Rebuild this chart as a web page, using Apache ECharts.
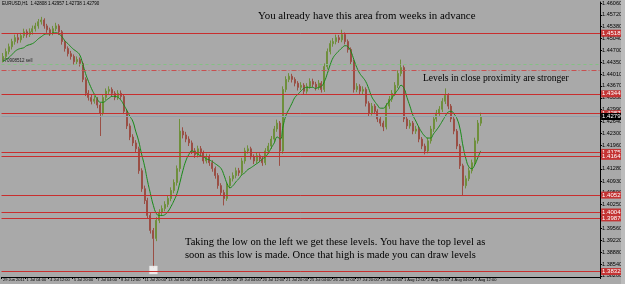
<!DOCTYPE html>
<html><head><meta charset="utf-8">
<script src="https://cdn.jsdelivr.net/npm/echarts@6/dist/echarts.min.js"></script>
<style>html,body{margin:0;padding:0;background:#a9a9a9;}#c{width:625px;height:284px;}</style>
</head><body><div id="c"></div>
<script>
const xLabels = ["29 Jun 2011","1 Jul 04:00","4 Jul 12:00","5 Jul 20:00","7 Jul 04:00","8 Jul 12:00","11 Jul 20:00","13 Jul 04:00","14 Jul 12:00","15 Jul 20:00","19 Jul 04:00","20 Jul 12:00","21 Jul 20:00","25 Jul 04:00","26 Jul 12:00","27 Jul 20:00","29 Jul 04:00","1 Aug 12:00","2 Aug 20:00","4 Aug 04:00","5 Aug 12:00"];
const slotCount = 203;
const yTicks = [1.38200,1.38540,1.38880,1.39220,1.39560,1.39910,1.40250,1.40590,1.40930,1.41280,1.41620,1.41960,1.42300,1.42640,1.42990,1.43330,1.43670,1.44010,1.44350,1.44700,1.45040,1.45380,1.45720,1.46060];
const opens = [
1.4443,1.4452,1.4466,1.4480,1.4495,1.4506,1.4500,1.4512,1.4523,1.4515,
1.4523,1.4532,1.4540,1.4552,1.4557,1.4540,1.4529,1.4520,1.4532,1.4540,
1.4523,1.4495,1.4475,1.4460,1.4452,1.4437,1.4443,1.4432,1.4386,1.4346,
1.4334,1.4323,1.4329,1.4312,1.4289,1.4334,1.4352,1.4357,1.4346,1.4334,
1.4346,1.4337,1.4294,1.4252,1.4220,1.4203,1.4186,1.4123,1.4071,1.4037,
1.3994,1.3951,1.3928,1.3980,1.4003,1.4014,1.4026,1.4043,1.4066,1.4089,
1.4129,1.4237,1.4226,1.4214,1.4203,1.4180,1.4169,1.4186,1.4174,1.4151,
1.4163,1.4146,1.4129,1.4109,1.4080,1.4060,1.4043,1.4080,1.4100,1.4109,
1.4123,1.4117,1.4151,1.4180,1.4186,1.4163,1.4151,1.4166,1.4157,1.4146,
1.4180,1.4194,1.4214,1.4243,1.4260,1.4180,1.4357,1.4386,1.4395,1.4386,
1.4375,1.4363,1.4369,1.4352,1.4366,1.4380,1.4372,1.4363,1.4375,1.4357,
1.4423,1.4466,1.4489,1.4495,1.4506,1.4500,1.4515,1.4495,1.4472,1.4437,
1.4357,1.4366,1.4352,1.4357,1.4317,1.4289,1.4309,1.4294,1.4272,1.4260,
1.4249,1.4309,1.4329,1.4346,1.4369,1.4403,1.4420,1.4272,1.4252,1.4260,
1.4237,1.4243,1.4214,1.4194,1.4180,1.4209,1.4243,1.4272,1.4289,1.4300,
1.4323,1.4340,1.4309,1.4272,1.4237,1.4194,1.4137,1.4080,1.4100,1.4123,
1.4146,1.4209,1.4260];
const closes = [
1.4452,1.4466,1.4480,1.4495,1.4506,1.4500,1.4512,1.4523,1.4515,1.4523,
1.4532,1.4540,1.4552,1.4557,1.4540,1.4529,1.4520,1.4532,1.4540,1.4523,
1.4495,1.4475,1.4460,1.4452,1.4437,1.4443,1.4432,1.4386,1.4346,1.4334,
1.4323,1.4329,1.4312,1.4289,1.4334,1.4352,1.4357,1.4346,1.4334,1.4346,
1.4337,1.4294,1.4252,1.4220,1.4203,1.4186,1.4123,1.4071,1.4037,1.3994,
1.3951,1.3928,1.3980,1.4003,1.4014,1.4026,1.4043,1.4066,1.4089,1.4129,
1.4237,1.4226,1.4214,1.4203,1.4180,1.4169,1.4186,1.4174,1.4151,1.4163,
1.4146,1.4129,1.4109,1.4080,1.4060,1.4043,1.4080,1.4100,1.4109,1.4123,
1.4117,1.4151,1.4180,1.4186,1.4163,1.4151,1.4166,1.4157,1.4146,1.4180,
1.4194,1.4214,1.4243,1.4260,1.4180,1.4357,1.4386,1.4395,1.4386,1.4375,
1.4363,1.4369,1.4352,1.4366,1.4380,1.4372,1.4363,1.4375,1.4357,1.4423,
1.4466,1.4489,1.4495,1.4506,1.4500,1.4515,1.4495,1.4472,1.4437,1.4357,
1.4366,1.4352,1.4357,1.4317,1.4289,1.4309,1.4294,1.4272,1.4260,1.4249,
1.4309,1.4329,1.4346,1.4369,1.4403,1.4420,1.4272,1.4252,1.4260,1.4237,
1.4243,1.4214,1.4194,1.4180,1.4209,1.4243,1.4272,1.4289,1.4300,1.4323,
1.4340,1.4309,1.4272,1.4237,1.4194,1.4137,1.4080,1.4100,1.4123,1.4146,
1.4209,1.4260,1.4279];
const lows = [
1.4435,1.4445,1.4458,1.4472,1.4486,1.4490,1.4492,1.4505,1.4506,1.4508,
1.4515,1.4524,1.4532,1.4544,1.4532,1.4520,1.4511,1.4513,1.4525,1.4514,
1.4486,1.4466,1.4452,1.4443,1.4428,1.4430,1.4423,1.4378,1.4338,1.4325,
1.4314,1.4316,1.4303,1.4223,1.4282,1.4326,1.4344,1.4338,1.4326,1.4327,
1.4328,1.4286,1.4243,1.4211,1.4194,1.4176,1.4114,1.4062,1.4027,1.3985,
1.3942,1.3843,1.3920,1.3972,1.3995,1.4006,1.4018,1.4035,1.4058,1.4080,
1.4120,1.4216,1.4205,1.4194,1.4171,1.4160,1.4161,1.4166,1.4143,1.4144,
1.4137,1.4120,1.4100,1.4071,1.4051,1.4023,1.4036,1.4072,1.4092,1.4101,
1.4108,1.4110,1.4143,1.4172,1.4155,1.4142,1.4144,1.4149,1.4137,1.4139,
1.4172,1.4186,1.4206,1.4235,1.4137,1.4172,1.4349,1.4378,1.4377,1.4366,
1.4354,1.4355,1.4343,1.4345,1.4359,1.4364,1.4354,1.4356,1.4348,1.4350,
1.4415,1.4458,1.4480,1.4487,1.4491,1.4493,1.4487,1.4463,1.4428,1.4348,
1.4349,1.4343,1.4344,1.4308,1.4280,1.4282,1.4286,1.4263,1.4251,1.4237,
1.4242,1.4301,1.4321,1.4338,1.4361,1.4395,1.4263,1.4243,1.4244,1.4228,
1.4229,1.4205,1.4185,1.4170,1.4173,1.4201,1.4235,1.4264,1.4281,1.4292,
1.4315,1.4300,1.4263,1.4228,1.4185,1.4128,1.4051,1.4072,1.4093,1.4115,
1.4138,1.4201,1.4252];
const highs = [
1.4462,1.4475,1.4489,1.4503,1.4515,1.4517,1.4520,1.4532,1.4530,1.4533,
1.4541,1.4549,1.4560,1.4566,1.4562,1.4546,1.4535,1.4540,1.4549,1.4545,
1.4528,1.4500,1.4481,1.4468,1.4458,1.4452,1.4449,1.4437,1.4392,1.4355,
1.4342,1.4338,1.4335,1.4318,1.4342,1.4360,1.4366,1.4363,1.4352,1.4355,
1.4354,1.4343,1.4300,1.4259,1.4228,1.4211,1.4192,1.4130,1.4080,1.4045,
1.4002,1.3958,1.3989,1.4012,1.4023,1.4035,1.4052,1.4075,1.4098,1.4138,
1.4272,1.4248,1.4235,1.4222,1.4210,1.4188,1.4195,1.4194,1.4181,1.4172,
1.4170,1.4153,1.4135,1.4116,1.4087,1.4068,1.4088,1.4108,1.4118,1.4132,
1.4131,1.4160,1.4189,1.4196,1.4192,1.4170,1.4175,1.4173,1.4164,1.4188,
1.4203,1.4223,1.4252,1.4270,1.4266,1.4366,1.4395,1.4404,1.4402,1.4392,
1.4381,1.4378,1.4375,1.4375,1.4389,1.4388,1.4379,1.4384,1.4381,1.4432,
1.4475,1.4498,1.4505,1.4515,1.4514,1.4529,1.4521,1.4501,1.4478,1.4443,
1.4375,1.4372,1.4366,1.4363,1.4323,1.4318,1.4315,1.4300,1.4279,1.4267,
1.4318,1.4338,1.4355,1.4378,1.4412,1.4443,1.4426,1.4279,1.4269,1.4266,
1.4252,1.4249,1.4220,1.4201,1.4218,1.4252,1.4281,1.4298,1.4309,1.4332,
1.4360,1.4346,1.4315,1.4278,1.4243,1.4200,1.4143,1.4109,1.4132,1.4155,
1.4218,1.4269,1.4290];
const maValues = [
1.4437,1.4443,1.4449,1.4457,1.4466,1.4472,1.4475,1.4477,1.4483,1.4486,
1.4489,1.4495,1.4503,1.4509,1.4515,1.4517,1.4517,1.4520,1.4520,1.4517,
1.4509,1.4497,1.4489,1.4480,1.4472,1.4466,1.4457,1.4432,1.4403,1.4380,
1.4360,1.4343,1.4329,1.4320,1.4320,1.4326,1.4332,1.4337,1.4337,1.4334,
1.4326,1.4312,1.4297,1.4280,1.4266,1.4237,1.4209,1.4171,1.4137,1.4094,
1.4057,1.4023,1.4000,1.3994,1.3994,1.3997,1.4006,1.4020,1.4037,1.4057,
1.4089,1.4123,1.4151,1.4169,1.4180,1.4177,1.4171,1.4166,1.4163,1.4157,
1.4154,1.4149,1.4143,1.4137,1.4129,1.4109,1.4086,1.4074,1.4080,1.4091,
1.4100,1.4111,1.4117,1.4126,1.4131,1.4137,1.4143,1.4149,1.4157,1.4163,
1.4174,1.4189,1.4203,1.4220,1.4214,1.4252,1.4283,1.4300,1.4317,1.4334,
1.4343,1.4352,1.4360,1.4363,1.4363,1.4363,1.4360,1.4363,1.4366,1.4380,
1.4403,1.4429,1.4449,1.4460,1.4469,1.4477,1.4483,1.4480,1.4466,1.4443,
1.4420,1.4403,1.4392,1.4380,1.4360,1.4337,1.4323,1.4312,1.4303,1.4303,
1.4312,1.4323,1.4334,1.4346,1.4357,1.4369,1.4360,1.4334,1.4309,1.4283,
1.4266,1.4249,1.4234,1.4223,1.4217,1.4217,1.4229,1.4240,1.4252,1.4266,
1.4280,1.4292,1.4294,1.4286,1.4272,1.4243,1.4194,1.4157,1.4134,1.4129,
1.4140,1.4160,1.4180];
const levels = [1.45189,1.43445,1.42873,1.41757,1.41643,1.40527,1.40041,1.39870,1.38325];
const orderLevel = 1.44303;
const stopLevel = 1.44131;
const currentPrice = 1.42790;
const lowMarkSlot = 51, lowMarkPrice = 1.3837;
const headerText = "EURUSD,H1  1.42808 1.42957 1.42738 1.42790";
const orderText = "#70908512 sell";
const notes = [
 {text:"You already have this area from weeks in advance", x:258, y:11, size:10.85},
 {text:"Levels in close proximity are stronger", x:423, y:73, size:9.6},
 {text:"Taking the low on the left we get these levels. You have the top level as", x:185, y:237, size:10.5},
 {text:"soon as this low is made. Once that high is made you can draw levels", x:185, y:250, size:10.5}
];

const categories = Array.from({length: slotCount}, (_, i) => 's' + i);
const candleData = opens.map((o, i) => [o, closes[i], lows[i], highs[i]]);
const showIdx = (idx) => idx % 8 === 0 && idx / 8 < xLabels.length;
const chart = echarts.init(document.getElementById('c'), null, {renderer: 'canvas'});
const lvlLabel = (bg) => ({show: true, position: 'end', distance: 1, formatter: (p) => Number(p.value).toFixed(5),
  backgroundColor: bg, color: '#fff', fontSize: 6, fontFamily: 'Liberation Sans', padding: [1, 2, 0, 1]});
const markData = levels.map(v => ({yAxis: v, lineStyle: {color: '#c82e2e', width: 1, type: 'solid'}, label: lvlLabel('#c43434')}));
markData.push({yAxis: currentPrice, lineStyle: {color: '#93a0ad', width: 1, type: 'solid'}, label: lvlLabel('#000')});
markData.push({yAxis: orderLevel, lineStyle: {color: '#84c084', width: 1, type: [3, 3]}, label: {show: false}});
markData.push({yAxis: stopLevel, lineStyle: {color: '#c85050', width: 1, type: [5, 2, 1, 2]}, label: {show: false}});

chart.setOption({
  animation: false,
  backgroundColor: '#a9a9a9',
  grid: {left: 0, right: 17, top: 0, bottom: 7},
  xAxis: {type: 'category', data: categories, boundaryGap: true,
    axisLine: {lineStyle: {color: '#000', width: 1}},
    axisTick: {show: true, interval: (idx) => showIdx(idx), length: 2, lineStyle: {color: '#000'}},
    axisLabel: {interval: (idx) => showIdx(idx), formatter: (v, idx) => xLabels[idx / 8] || '', align: 'left', fontSize: 4, color: '#000', margin: 1, fontFamily: 'Liberation Sans', showMinLabel: true, hideOverlap: false},
    splitLine: {show: false}},
  yAxis: {type: 'value', position: 'right', min: 1.38168, max: 1.4609, scale: true,
    axisLine: {show: true, lineStyle: {color: '#000'}},
    axisTick: {show: true, length: 2, customValues: yTicks, lineStyle: {color: '#000'}},
    axisLabel: {customValues: yTicks, formatter: (v) => v.toFixed(5), fontSize: 5.5, color: '#000', margin: 2, fontFamily: 'Liberation Sans'},
    splitLine: {show: false}},
  series: [
    {type: 'candlestick', data: candleData, barWidth: 1.5,
      itemStyle: {color: '#6f8f3c', color0: '#9a4f45', borderColor: '#6f8f3c', borderColor0: '#9a4f45', borderWidth: 1},
      markLine: {silent: true, symbol: 'none', precision: 5, animation: false, data: markData}},
    {type: 'line', data: maValues, smooth: true, showSymbol: false, lineStyle: {color: '#188a18', width: 1}, z: 3},
    {type: 'scatter', data: [[lowMarkSlot, lowMarkPrice]], symbol: 'rect', symbolSize: 8, itemStyle: {color: '#fff', borderColor: '#ddd', borderWidth: 0.5}, z: 4}
  ],
  graphic: [
    {type: 'text', left: 2, top: 1, style: {text: headerText, fontSize: 4.5, fill: '#000', fontFamily: 'Liberation Sans'}},
    {type: 'text', left: 2, top: 58, style: {text: orderText, fontSize: 4.5, fill: '#222', fontFamily: 'Liberation Sans'}},
    {type: 'rect', shape: {x: 621, y: 0, width: 4, height: 284}, style: {fill: '#bcbcbc'}, z: 100}
  ].concat(notes.map(n => ({type: 'text', left: n.x, top: n.y, style: {text: n.text, fontSize: n.size, fill: '#000', fontFamily: 'Liberation Serif'}})))
});
</script></body></html>
